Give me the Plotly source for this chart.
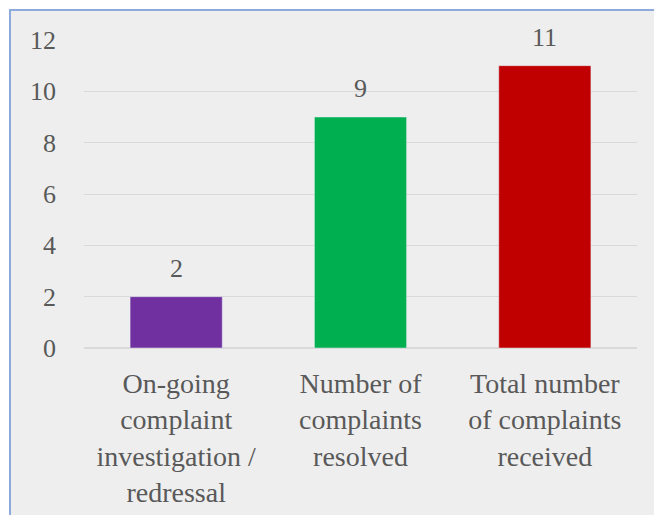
import plotly.graph_objects as go

categories = ["On-going<br>complaint<br>investigation /<br>redressal",
              "Number of<br>complaints<br>resolved",
              "Total number<br>of complaints<br>received"]
values = [2, 9, 11]
colors = ["#7030a0", "#00b050", "#c00000"]
y_ticks = [0, 2, 4, 6, 8, 10, 12]

FONT = "'Liberation Serif', 'DejaVu Serif', serif"
OFF = 8  # page body margin
W, H = 662 - OFF, 515 - OFF
L, T = 84 - OFF, 40 - OFF
pw, ph = 553, 308
R, B = W - L - pw, H - T - ph

fig = go.Figure(go.Bar(
    x=categories, y=values, marker_color=colors, width=0.5,
    cliponaxis=False, hoverinfo="x+y",
))

for c, v in zip(categories, values):
    fig.add_annotation(x=c, y=v, text=str(v), showarrow=False, yanchor="bottom",
                       yshift=12, font=dict(family=FONT, size=26, color="#595959"))

fig.add_shape(type="rect", xref="paper", yref="paper",
              x0=(10 - OFF - L) / pw, x1=(W + 5 - L) / pw,
              y0=-(B + 5) / ph, y1=1 + (T - (10 - OFF)) / ph,
              fillcolor="#eeeeee", line=dict(color="#8ea9db", width=2),
              layer="below")

fig.update_layout(
    width=W, height=H,
    margin=dict(l=L, r=R, t=T, b=B, autoexpand=False),
    paper_bgcolor="white", plot_bgcolor="rgba(0,0,0,0)",
    showlegend=False,
    font=dict(family=FONT, size=26, color="#595959"),
)
fig.update_xaxes(showgrid=False, showline=False, ticks="",
                 tickfont=dict(family=FONT, size=28),
                 ticklabelstandoff=16, automargin=False)
fig.update_yaxes(range=[0, 12], tickvals=y_ticks, showgrid=True, gridcolor="#d9d9d9",
                 gridwidth=1, zeroline=True, zerolinecolor="#d9d9d9", ticks="",
                 tickfont=dict(family=FONT, size=26), ticklabelstandoff=27, automargin=False)

fig.write_html("out.html")
